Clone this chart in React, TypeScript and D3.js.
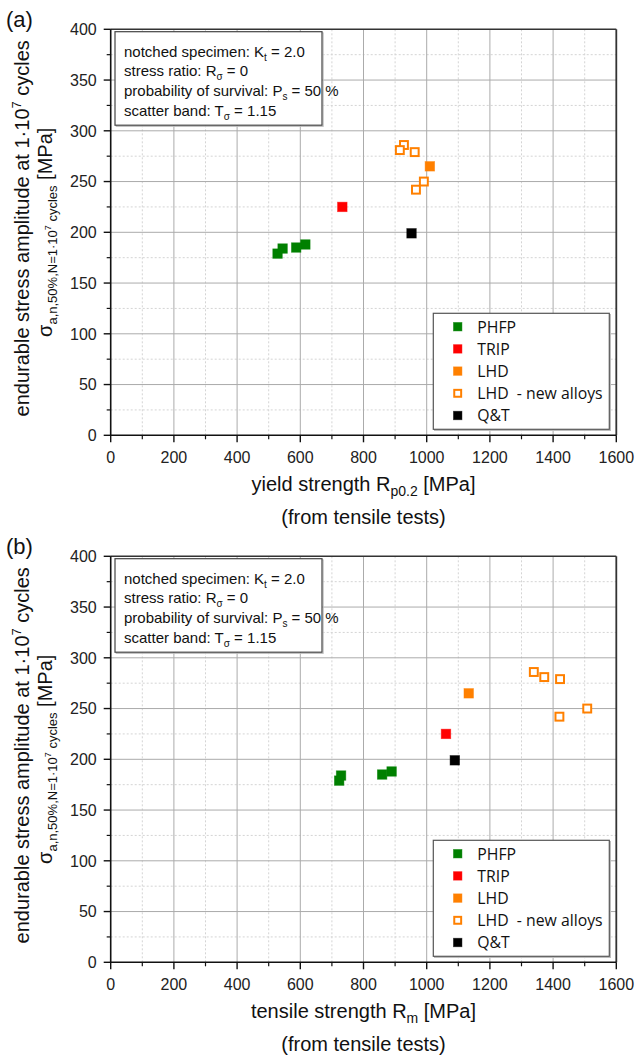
import React from "react";
import * as d3 from "d3";

// ---- data ----
const seriesNames = ["PHFP", "TRIP", "LHD", "LHD  - new alloys", "Q&T"];
const seriesColors = ["#008000", "#ff0000", "#ff8000", "#ff8000", "#000000"];
const seriesOpen = [false, false, false, true, false];

const phfpYield = [528, 544, 587, 616];
const phfpTensile = [723, 729, 859, 889];
const phfpStress = [179, 184, 185, 188];

const tripYield = [733];
const tripTensile = [1061];
const tripStress = [225];

const lhdYield = [1010];
const lhdTensile = [1133];
const lhdStress = [265];

const lhdNewYield = [928, 915, 962, 991, 966];
const lhdNewTensile = [1339, 1372, 1422, 1508, 1420];
const lhdNewStress = [286, 281, 279, 250, 242];

const qtYield = [952];
const qtTensile = [1089];
const qtStress = [199];

const xMajorTicks = [0, 200, 400, 600, 800, 1000, 1200, 1400, 1600];
const xMinorTicks = [100, 300, 500, 700, 900, 1100, 1300, 1500];
const yMajorTicks = [0, 50, 100, 150, 200, 250, 300, 350, 400];
const yMinorTicks = [25, 75, 125, 175, 225, 275, 325, 375];

const seriesYield = [phfpYield, tripYield, lhdYield, lhdNewYield, qtYield];
const seriesTensile = [phfpTensile, tripTensile, lhdTensile, lhdNewTensile, qtTensile];
const seriesStress = [phfpStress, tripStress, lhdStress, lhdNewStress, qtStress];

// ---- layout ----
const W = 638;
const H = 1056;
const plotLeft = 110.7;
const plotRight = 616.3;
const plotH = 406;
const FONT = "'Liberation Sans', Arial, Helvetica, sans-serif";
const LFONT = "'Open Sans', 'Noto Sans', sans-serif";

function Marker({ x, y, color, open, size }: { x: number; y: number; color: string; open: boolean; size: number }) {
  if (open) {
    const s = size - 1.6;
    return (
      <rect x={x - s / 2} y={y - s / 2} width={s} height={s} fill="#ffffff" stroke={color} strokeWidth={2} />
    );
  }
  return (
    <rect x={x - size / 2} y={y - size / 2} width={size} height={size} fill={color} stroke={color} strokeOpacity={0.55} strokeWidth={0.8} />
  );
}

function Panel({ top, letter, xData, xMain, xSub }: { top: number; letter: string; xData: number[][]; xMain: string; xSub: string }) {
  const x = d3.scaleLinear().domain([0, 1600]).range([plotLeft, plotRight]);
  const y = d3.scaleLinear().domain([0, 400]).range([top + plotH, top]);
  const bottom = top + plotH;
  const midY = (top + bottom) / 2;
  const midX = (plotLeft + plotRight) / 2;

  const legX = 433.3;
  const legY = top + 284;
  const legW = 176;
  const legH = 116;
  const legRow = 22.2;

  const annX = 115;
  const annY = top + 2.4;
  const annW = 207;
  const annH = 93.5;
  const annLines: [string, string, string][] = [
    ["notched specimen: K", "t", " = 2.0"],
    ["stress ratio: R", "σ", " = 0"],
    ["probability of survival: P", "s", " = 50 %"],
    ["scatter band: T", "σ", " = 1.15"],
  ];

  return (
    <g>
      {/* panel letter */}
      <text x={6} y={top - 2} fontFamily={FONT} fontSize={22} fill="#111">{letter}</text>

      {/* minor grid */}
      {xMinorTicks.map((t) => (
        <line key={"xm" + t} x1={x(t)} x2={x(t)} y1={top} y2={bottom} stroke="#d4d4d4" strokeWidth={1} strokeDasharray="2,2" />
      ))}
      {yMinorTicks.map((t) => (
        <line key={"ym" + t} x1={plotLeft} x2={plotRight} y1={y(t)} y2={y(t)} stroke="#d4d4d4" strokeWidth={1} strokeDasharray="2,2" />
      ))}
      {/* major grid */}
      {xMajorTicks.slice(1, -1).map((t) => (
        <line key={"xg" + t} x1={x(t)} x2={x(t)} y1={top} y2={bottom} stroke="#ababab" strokeWidth={1} />
      ))}
      {yMajorTicks.slice(1, -1).map((t) => (
        <line key={"yg" + t} x1={plotLeft} x2={plotRight} y1={y(t)} y2={y(t)} stroke="#ababab" strokeWidth={1} />
      ))}

      {/* frame */}
      <line x1={plotLeft} x2={plotRight} y1={top} y2={top} stroke="#333" strokeWidth={1.5} />
      <line x1={plotRight} x2={plotRight} y1={top} y2={bottom} stroke="#333" strokeWidth={1.8} />
      <line x1={plotLeft} x2={plotLeft} y1={top} y2={bottom + 0.75} stroke="#111" strokeWidth={1.6} />
      <line x1={plotLeft - 0.75} x2={plotRight} y1={bottom} y2={bottom} stroke="#111" strokeWidth={1.6} />

      {/* ticks */}
      {xMajorTicks.map((t) => (
        <line key={"xt" + t} x1={x(t)} x2={x(t)} y1={bottom} y2={bottom + 7} stroke="#111" strokeWidth={1.4} />
      ))}
      {xMinorTicks.map((t) => (
        <line key={"xmt" + t} x1={x(t)} x2={x(t)} y1={bottom} y2={bottom + 4} stroke="#111" strokeWidth={1.2} />
      ))}
      {yMajorTicks.map((t) => (
        <line key={"yt" + t} x1={plotLeft - 7} x2={plotLeft} y1={y(t)} y2={y(t)} stroke="#111" strokeWidth={1.4} />
      ))}
      {yMinorTicks.map((t) => (
        <line key={"ymt" + t} x1={plotLeft - 4} x2={plotLeft} y1={y(t)} y2={y(t)} stroke="#111" strokeWidth={1.2} />
      ))}

      {/* tick labels */}
      {xMajorTicks.map((t) => (
        <text key={"xl" + t} x={x(t)} y={bottom + 28} textAnchor="middle" fontFamily={FONT} fontSize={16} fill="#222">{t}</text>
      ))}
      {yMajorTicks.map((t) => (
        <text key={"yl" + t} x={plotLeft - 14} y={y(t) + 5.8} textAnchor="end" fontFamily={FONT} fontSize={16} fill="#222">{t}</text>
      ))}

      {/* axis titles */}
      <text x={midX} y={bottom + 56} textAnchor="middle" fontFamily={FONT} fontSize={20} fill="#111">
        {xMain}
        <tspan fontSize={14} dy={5}>{xSub}</tspan>
        <tspan dy={-5}> [MPa]</tspan>
      </text>
      <text x={midX} y={bottom + 89} textAnchor="middle" fontFamily={FONT} fontSize={20} fill="#111">(from tensile tests)</text>

      <text transform={`translate(29,${midY - 4}) rotate(-90)`} textAnchor="middle" fontFamily={FONT} fontSize={20} fill="#111">
        endurable stress amplitude at 1·10<tspan fontSize={13} dy={-8}>7</tspan><tspan dy={8}> cycles</tspan>
      </text>
      <text transform={`translate(52,${midY}) rotate(-90)`} textAnchor="middle" fontFamily={FONT} fontSize={20} fill="#111">
        σ<tspan fontSize={13} dy={5}>a,n,50%,N=1·10</tspan><tspan fontSize={9} dy={-6}>7</tspan><tspan fontSize={13} dy={6}> cycles</tspan><tspan dy={-5}> [MPa]</tspan>
      </text>

      {/* data */}
      {seriesNames.map((name, i) =>
        xData[i].map((xv, j) => (
          <Marker key={name + j} x={x(xv)} y={y(seriesStress[i][j])} color={seriesColors[i]} open={seriesOpen[i]} size={9.5} />
        ))
      )}

      {/* annotation box */}
      <rect x={annX + 1.2} y={annY + 1.2} width={annW} height={annH} fill="none" stroke="#bdbdbd" strokeWidth={1} />
      <rect x={annX} y={annY} width={annW} height={annH} fill="#ffffff" stroke="#444" strokeWidth={1.2} />
      {annLines.map((l, i) => (
        <text key={"ann" + i} x={annX + 9} y={annY + 25 + i * 19.6} fontFamily={FONT} fontSize={15} fill="#111">
          {l[0]}
          <tspan fontSize={10} dy={4}>{l[1]}</tspan>
          <tspan dy={-4}>{l[2]}</tspan>
        </text>
      ))}

      {/* legend */}
      <rect x={legX + 1.2} y={legY + 1.2} width={legW} height={legH} fill="none" stroke="#bdbdbd" strokeWidth={1} />
      <rect x={legX} y={legY} width={legW} height={legH} fill="#ffffff" stroke="#555" strokeWidth={1.2} />
      {seriesNames.map((name, i) => (
        <g key={"leg" + i}>
          <Marker x={legX + 24.4} y={legY + 13.4 + i * legRow} color={seriesColors[i]} open={seriesOpen[i]} size={8.5} />
          <text x={legX + 44} y={legY + 13.4 + i * legRow + 5.8} fontFamily={LFONT} fontSize={15.8} fill="#111" style={{ whiteSpace: "pre" }}>
            {name}
          </text>
        </g>
      ))}
    </g>
  );
}

export default function App() {
  return (
    <div style={{ position: "absolute", left: 0, top: 0, width: W, height: H, background: "#fff" }}>
      <svg width={W} height={H} viewBox={`0 0 ${W} ${H}`} style={{ display: "block" }}>
        <rect x={0} y={0} width={W} height={H} fill="#ffffff" />
        <Panel top={29.3} letter="(a)" xData={seriesYield} xMain="yield strength R" xSub="p0.2" />
        <Panel top={556.3} letter="(b)" xData={seriesTensile} xMain="tensile strength R" xSub="m" />
      </svg>
    </div>
  );
}
